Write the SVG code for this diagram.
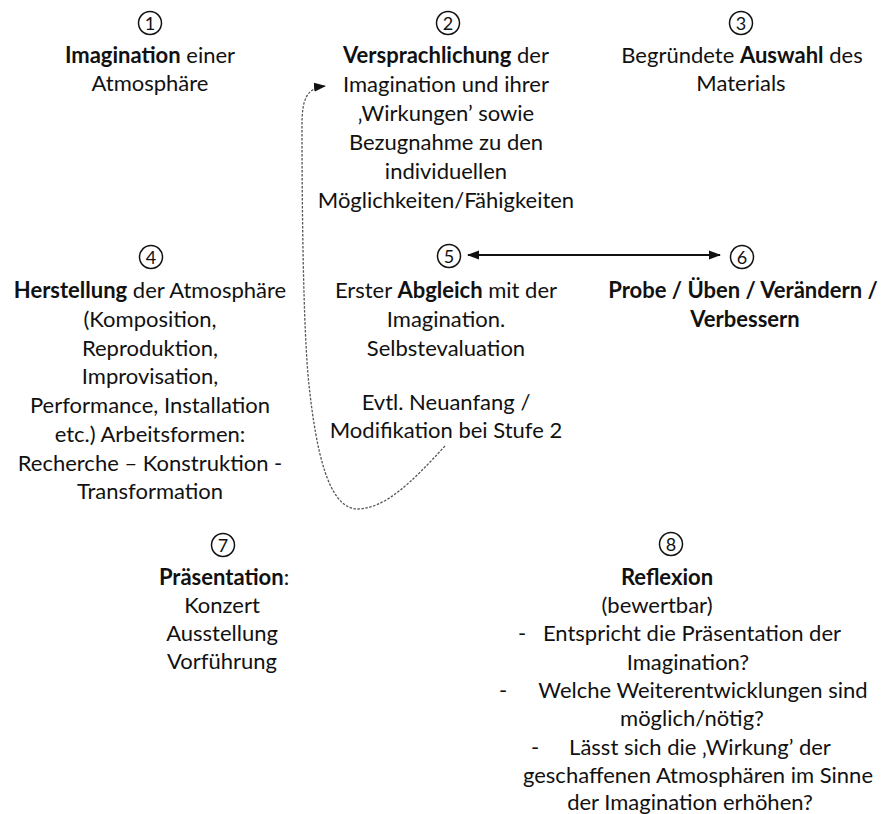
<svg xmlns="http://www.w3.org/2000/svg" width="881" height="814" viewBox="0 0 881 814">
<style>
text{font-family:Lato,"Open Sans","Liberation Sans",sans-serif;font-size:22px;fill:#111;text-anchor:middle}
.b{font-weight:bold}
.num{font-size:18px}
.ring{fill:none;stroke:#111;stroke-width:1.5}
.dash{fill:none;stroke:#555;stroke-width:1.3;stroke-dasharray:2.5 1.5}
.solid{fill:none;stroke:#111;stroke-width:2.2}
</style>
<defs>
<marker id="ah" viewBox="0 0 12 10" refX="11" refY="5" markerWidth="12" markerHeight="10" markerUnits="userSpaceOnUse" orient="auto-start-reverse"><path d="M0,0.5 L12,5 L0,9.5 z" fill="#111"/></marker>
<marker id="ah2" viewBox="0 0 12 10" refX="11" refY="5" markerWidth="12" markerHeight="10" markerUnits="userSpaceOnUse" orient="auto"><path d="M0,0.5 L12,5 L0,9.5 z" fill="#111"/></marker>
</defs>
<rect width="881" height="814" fill="#fff"/>
<g id="node1">
<circle class="ring" cx="150" cy="23" r="11.5"/><text class="num" x="150" y="29.5">1</text>
<text x="150" y="63"><tspan class="b">Imagination</tspan> einer</text>
<text x="150" y="91">Atmosphäre</text>
</g>
<g id="node2">
<circle class="ring" cx="448" cy="23" r="11.5"/><text class="num" x="448" y="29.5">2</text>
<text x="446" y="63"><tspan class="b">Versprachlichung</tspan> der</text>
<text x="446" y="92">Imagination und ihrer</text>
<text x="446" y="121">‚Wirkungen’ sowie</text>
<text x="446" y="150">Bezugnahme zu den</text>
<text x="446" y="179">individuellen</text>
<text x="446" y="208">Möglichkeiten/Fähigkeiten</text>
</g>
<g id="node3">
<circle class="ring" cx="741" cy="23" r="11.5"/><text class="num" x="741" y="29.5">3</text>
<text x="742" y="63">Begründete <tspan class="b">Auswahl</tspan> des</text>
<text x="741" y="91">Materials</text>
</g>
<g id="node4">
<circle class="ring" cx="151" cy="257" r="11.5"/><text class="num" x="151" y="263.5">4</text>
<text x="150" y="298"><tspan class="b">Herstellung</tspan> der Atmosphäre</text>
<text x="150" y="327">(Komposition,</text>
<text x="150" y="356">Reproduktion,</text>
<text x="150" y="384">Improvisation,</text>
<text x="150" y="413">Performance, Installation</text>
<text x="150" y="442">etc.) Arbeitsformen:</text>
<text x="150" y="471">Recherche – Konstruktion -</text>
<text x="150" y="499">Transformation</text>
</g>
<g id="node5">
<circle class="ring" cx="449" cy="256" r="11.5"/><text class="num" x="449" y="262.5">5</text>
<text x="446" y="298">Erster <tspan class="b">Abgleich</tspan> mit der</text>
<text x="446" y="327">Imagination.</text>
<text x="446" y="356">Selbstevaluation</text>
<text x="446" y="410">Evtl. Neuanfang /</text>
<text x="446" y="438">Modifikation bei Stufe 2</text>
</g>
<g id="node6">
<circle class="ring" cx="742" cy="257" r="11.5"/><text class="num" x="742" y="263.5">6</text>
<text class="b" x="743" y="298">Probe / Üben / Verändern /</text>
<text class="b" x="745" y="327">Verbessern</text>
</g>
<g id="node7">
<circle class="ring" cx="223" cy="545" r="11.5"/><text class="num" x="223" y="551.5">7</text>
<text x="224" y="585"><tspan class="b">Präsentation</tspan>:</text>
<text x="222" y="613">Konzert</text>
<text x="222" y="641">Ausstellung</text>
<text x="222" y="669">Vorführung</text>
</g>
<g id="node8">
<circle class="ring" cx="671" cy="544" r="11.5"/><text class="num" x="671" y="550.5">8</text>
<text class="b" x="667" y="585">Reflexion</text>
<text x="657" y="613">(bewertbar)</text>
<text x="522" y="641">-</text><text x="692" y="641">Entspricht die Präsentation der</text>
<text x="688" y="670">Imagination?</text>
<text x="503" y="698">-</text><text x="703" y="698">Welche Weiterentwicklungen sind</text>
<text x="692" y="726">möglich/nötig?</text>
<text x="535" y="755">-</text><text x="700" y="755">Lässt sich die ‚Wirkung’ der</text>
<text x="698" y="783">geschaffenen Atmosphären im Sinne</text>
<text x="690" y="810">der Imagination erhöhen?</text>
</g>
<g id="connectors">
<line class="solid" x1="468" y1="255" x2="720" y2="255" marker-start="url(#ah)" marker-end="url(#ah)"/>
<path class="dash" d="M445,446 C412,482 385,509 357,509 C328,508 316,450 309,385 C303,330 302,200 302,125 C302,100 306,88 325,86" marker-end="url(#ah2)"/>
</g>
</svg>
